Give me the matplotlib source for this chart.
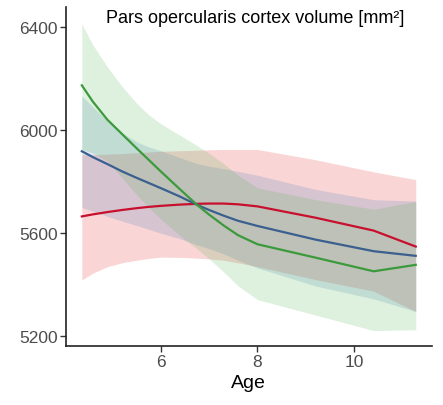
import matplotlib
matplotlib.use("Agg")
import matplotlib.pyplot as plt

plt.rcParams['font.family'] = ['Liberation Sans', 'DejaVu Sans']

age = [4.37, 4.6, 4.9, 5.2, 5.5, 5.75, 6.0, 6.4, 6.75, 7.0, 7.3, 7.6, 8.0, 9.2, 10.4, 11.27]

red_fit = [5665, 5673, 5682, 5690, 5697, 5702, 5706, 5711, 5714, 5715, 5715, 5712, 5704, 5660, 5610, 5548]
red_upper = [5905, 5905, 5907, 5909, 5912, 5915, 5918, 5920, 5922, 5924, 5925, 5925, 5925, 5885, 5838, 5808]
red_lower = [5418, 5445, 5470, 5485, 5495, 5502, 5507, 5506, 5503, 5500, 5495, 5485, 5470, 5420, 5375, 5296]

blue_fit = [5918, 5895, 5868, 5840, 5815, 5795, 5775, 5742, 5710, 5690, 5668, 5648, 5628, 5575, 5530, 5512]
blue_upper = [6132, 6090, 6035, 5990, 5955, 5935, 5920, 5893, 5870, 5860, 5850, 5840, 5825, 5770, 5730, 5725]
blue_lower = [5700, 5685, 5665, 5647, 5630, 5615, 5600, 5578, 5555, 5540, 5520, 5495, 5465, 5395, 5345, 5296]

green_fit = [6174, 6110, 6040, 5985, 5930, 5885, 5840, 5770, 5710, 5672, 5630, 5592, 5557, 5505, 5452, 5477]
green_upper = [6412, 6330, 6245, 6170, 6105, 6060, 6025, 5980, 5940, 5910, 5870, 5825, 5776, 5730, 5693, 5723]
green_lower = [5925, 5912, 5880, 5815, 5750, 5700, 5655, 5590, 5540, 5500, 5450, 5395, 5342, 5282, 5222, 5225]

yticks = [5200, 5600, 6000, 6400]
xticks = [6, 8, 10]

fig = plt.figure(figsize=(4.43, 4.06), dpi=100)
ax = fig.add_axes([0.149, 0.1453, 0.8255, 0.835])

series = [
    (red_fit, red_lower, red_upper, '#E41A1C', '#C8102E'),
    (blue_fit, blue_lower, blue_upper, '#377EB8', '#3B5F8E'),
    (green_fit, green_lower, green_upper, '#4DAF4A', '#3C9A3C'),
]
for fit, lo, hi, fc, lc in series:
    ax.fill_between(age, lo, hi, color=fc, alpha=0.18, linewidth=0)
for fit, lo, hi, fc, lc in series:
    ax.plot(age, fit, color=lc, linewidth=1.6)

ax.set_xlim(4.043, 11.6)
ax.set_ylim(5162, 6478)
ax.set_xticks(xticks)
ax.set_yticks(yticks)
ax.set_xticklabels([str(t) for t in xticks])
ax.set_yticklabels([str(t) for t in yticks])

for s in ['top', 'right']:
    ax.spines[s].set_visible(False)
for s in ['left', 'bottom']:
    ax.spines[s].set_linewidth(1.2)
    ax.spines[s].set_color('#222222')

ax.tick_params(axis='both', direction='out', length=4, width=1, color='#333333',
               labelcolor='#4d4d4d', labelsize=12.5, pad=2)

ax.set_xlabel('Age', fontsize=14, color='black', labelpad=3)
ax.text(0.517, 0.9696, 'Pars opercularis cortex volume [mm²]', transform=ax.transAxes,
        ha='center', va='center', fontsize=13, color='black')

fig.savefig('out.png', dpi=100)
